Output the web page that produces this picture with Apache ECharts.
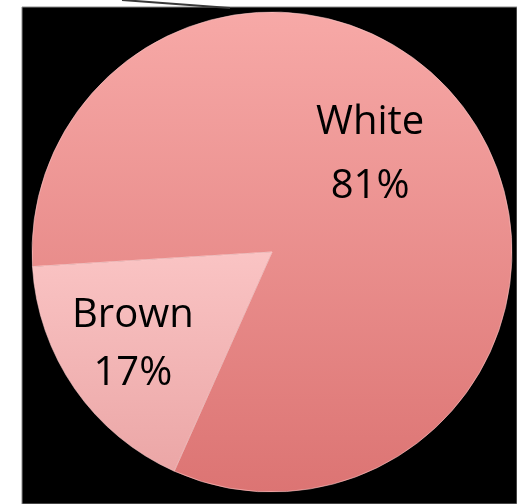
<!DOCTYPE html>
<html>
<head>
<meta charset="utf-8">
<script src="https://cdn.jsdelivr.net/npm/echarts@6/dist/echarts.min.js"></script>
<style>
html,body{margin:0;padding:0;background:#ffffff;}
#chart{width:517px;height:504px;}
</style>
</head>
<body>
<div id="chart"></div>
<script>
const categories = ['White', 'Brown'];
const values = [81, 17];
const sliceTop = ['#F7A9A7', '#FAC4C4'];
const sliceBottom = ['#DC7473', '#EBA6A6'];
const labelOffsets = [[-3, -27], [-38, 23]];
const labelLineHeights = [64, 58];

const chart = echarts.init(document.getElementById('chart'), null, {renderer: 'canvas'});

const data = categories.map((name, i) => ({
  name: name,
  value: values[i],
  itemStyle: {
    color: new echarts.graphic.LinearGradient(0, 0, 0, 1, [
      {offset: 0, color: sliceTop[i]},
      {offset: 1, color: sliceBottom[i]}
    ])
  },
  label: {
    offset: labelOffsets[i],
    lineHeight: labelLineHeights[i]
  }
}));

chart.setOption({
  backgroundColor: '#ffffff',
  animation: false,
  graphic: [
    {
      type: 'rect',
      z: -10,
      shape: {x: 22, y: 7, width: 495, height: 497},
      style: {fill: '#000000', stroke: '#8a8a8a', lineWidth: 1}
    },
    {
      type: 'line',
      z: 10,
      shape: {x1: 122, y1: 0, x2: 230, y2: 8},
      style: {stroke: '#3a3a3a', lineWidth: 2}
    }
  ],
  series: [{
    type: 'pie',
    center: [272, 252],
    radius: [0, 240],
    startAngle: 183.5,
    clockwise: true,
    avoidLabelOverlap: false,
    itemStyle: {
      borderColor: 'rgba(255,205,205,0.55)',
      borderWidth: 1
    },
    label: {
      show: true,
      position: 'inside',
      formatter: '{b}\n{c}%',
      color: '#000000',
      fontFamily: 'Open Sans',
      fontSize: 40,
      align: 'center'
    },
    labelLine: {show: false},
    emphasis: {disabled: true},
    data: data
  }]
});
</script>
</body>
</html>
